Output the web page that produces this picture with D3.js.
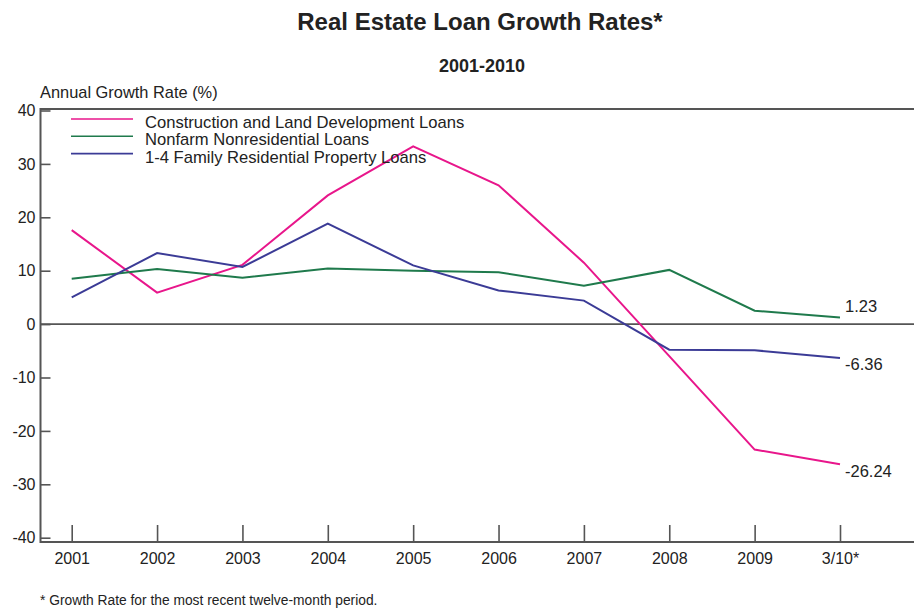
<!DOCTYPE html>
<html>
<head>
<meta charset="utf-8">
<script src="https://cdn.jsdelivr.net/npm/d3@7"></script>
<style>
  html, body { margin: 0; padding: 0; background: #fff; }
  svg { display: block; font-family: "Liberation Sans", Arial, Helvetica, sans-serif; }
</style>
</head>
<body>
<svg id="chart" width="914" height="609"></svg>
<script>
// Periods on the x axis
const periods = ["2001", "2002", "2003", "2004", "2005", "2006", "2007", "2008", "2009", "3/10*"];

// Annual growth rates (%) by loan type
const construction = [17.6, 5.9, 11.1, 24.1, 33.3, 26.0, 11.5, -6.0, -23.5, -26.24];
const nonfarm      = [8.5, 10.3, 8.7, 10.4, 10.0, 9.7, 7.2, 10.15, 2.5, 1.23];
const family14     = [5.0, 13.3, 10.7, 18.8, 11.0, 6.3, 4.4, -4.8, -4.9, -6.36];

const seriesNames = [
  "Construction and Land Development Loans",
  "Nonfarm Nonresidential Loans",
  "1-4 Family Residential Property Loans"
];
const seriesColors = ["#e8168b", "#1f7a4c", "#3b3b96"];
const yTicks = [40, 30, 20, 10, 0, -10, -20, -30, -40];

const series = [construction, nonfarm, family14].map((values, i) => ({
  name: seriesNames[i], color: seriesColors[i], values
}));

// Plain hyphen-minus for negative numbers
const fmtInt = d => String(d);
const fmt2 = d => d.toFixed(2);

const svg = d3.select("#chart");
const W = 914;
const axisColor = "#555";

const plotLeft = 40.5, plotTop = 109, plotBottom = 542;

const x = d3.scalePoint().domain(periods).range([71.7, 840]);
const y = d3.scaleLinear().domain([-40, 40]).range([537.7, 110.5]);

// Titles
svg.append("text").attr("x", 480).attr("y", 30).attr("text-anchor", "middle")
  .attr("font-size", 24).attr("font-weight", "bold").attr("fill", "#222")
  .text("Real Estate Loan Growth Rates*");
svg.append("text").attr("x", 482).attr("y", 72).attr("text-anchor", "middle")
  .attr("font-size", 18).attr("font-weight", "bold").attr("fill", "#222")
  .text("2001-2010");
svg.append("text").attr("x", 40).attr("y", 98)
  .attr("font-size", 16.4).attr("fill", "#222")
  .text("Annual Growth Rate (%)");

// Frame: top rule, left axis, bottom axis
svg.append("line").attr("x1", plotLeft).attr("x2", W).attr("y1", plotTop).attr("y2", plotTop)
  .attr("stroke", axisColor).attr("stroke-width", 2);
svg.append("line").attr("x1", plotLeft).attr("x2", W).attr("y1", plotBottom).attr("y2", plotBottom)
  .attr("stroke", axisColor).attr("stroke-width", 2);
svg.append("line").attr("x1", plotLeft).attr("x2", plotLeft).attr("y1", plotTop - 1).attr("y2", plotBottom + 1)
  .attr("stroke", axisColor).attr("stroke-width", 2);

// Zero line
svg.append("line").attr("x1", plotLeft).attr("x2", W).attr("y1", y(0)).attr("y2", y(0))
  .attr("stroke", axisColor).attr("stroke-width", 1.6);

// Y axis: ticks pointing inward, labels to the left
const yAxis = d3.axisRight(y).tickValues(yTicks).tickSize(10).tickFormat(fmtInt);
const gy = svg.append("g").attr("transform", `translate(${plotLeft},0)`).call(yAxis);
gy.select(".domain").remove();
gy.selectAll(".tick line").attr("stroke", axisColor).attr("stroke-width", 1.6);
gy.selectAll(".tick text")
  .attr("x", -5).attr("text-anchor", "end")
  .attr("font-size", 16).attr("fill", "#222").attr("font-family", null);

// X axis: ticks pointing up, labels below
const xAxis = d3.axisTop(x).tickSize(17).tickFormat(d => d);
const gx = svg.append("g").attr("transform", `translate(0,${plotBottom})`).call(xAxis);
gx.select(".domain").remove();
gx.selectAll(".tick line").attr("stroke", axisColor).attr("stroke-width", 1.6);
gx.selectAll(".tick text")
  .attr("y", 22).attr("dy", 0)
  .attr("font-size", 16).attr("fill", "#222").attr("font-family", null);

// Series lines
const line = d3.line()
  .x((d, i) => x(periods[i]))
  .y(d => y(d));

svg.append("g").selectAll("path").data(series).join("path")
  .attr("d", s => line(s.values))
  .attr("fill", "none")
  .attr("stroke", s => s.color)
  .attr("stroke-width", 2)
  .attr("stroke-linejoin", "miter");

// End-of-series value labels
const lastPeriod = periods[periods.length - 1];
const labelOffsets = [7, -11, 6];
svg.append("g").selectAll("text").data(series).join("text")
  .attr("x", x(lastPeriod) + 5)
  .attr("y", (s, i) => y(s.values[s.values.length - 1]) + labelOffsets[i])
  .attr("dy", "0.35em")
  .attr("font-size", 16.5).attr("fill", "#222")
  .text(s => fmt2(s.values[s.values.length - 1]));

// Legend
const legend = svg.append("g");
series.forEach((s, i) => {
  const ly = 119 + i * 17.3;
  legend.append("line").attr("x1", 71).attr("x2", 133).attr("y1", ly).attr("y2", ly)
    .attr("stroke", s.color).attr("stroke-width", 1.6);
  legend.append("text").attr("x", 145).attr("y", ly + 9)
    .attr("font-size", 16.6).attr("fill", "#222").text(s.name);
});

// Footnote
svg.append("text").attr("x", 40).attr("y", 605)
  .attr("font-size", 13.8).attr("fill", "#222")
  .text("* Growth Rate for the most recent twelve-month period.");
</script>
</body>
</html>
